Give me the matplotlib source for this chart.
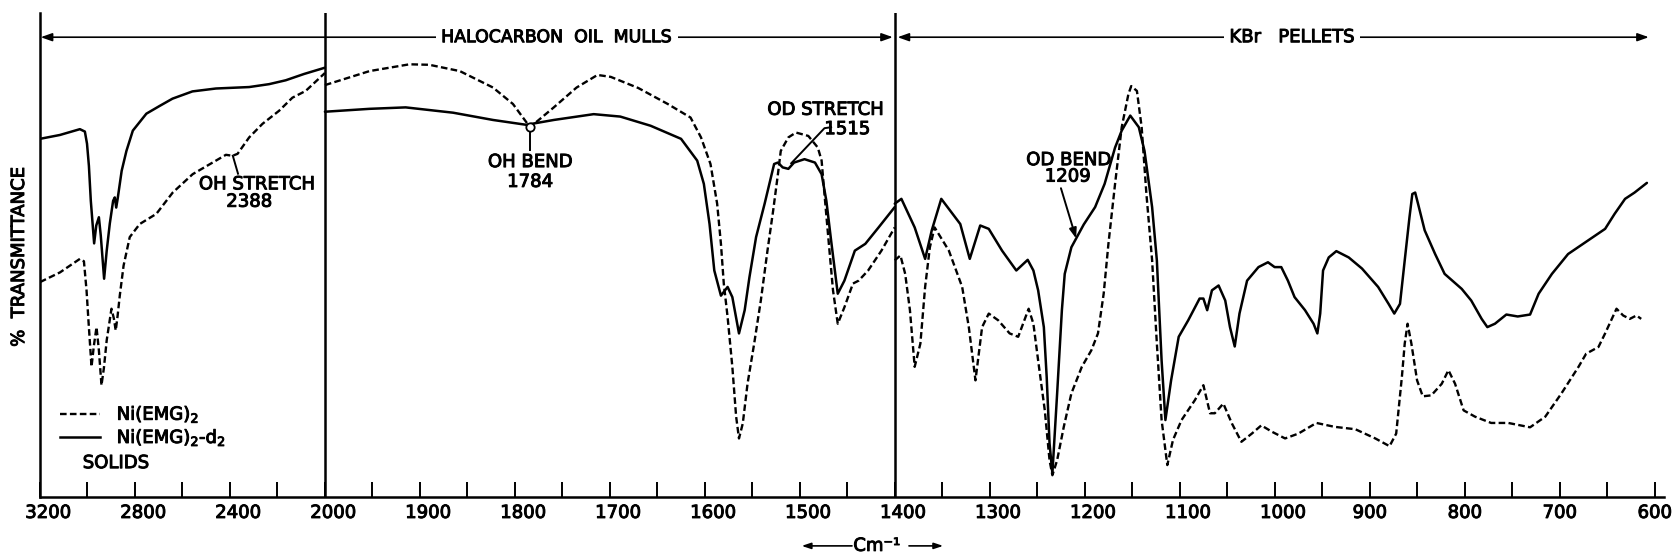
import numpy as np
import matplotlib
matplotlib.use("Agg")
import matplotlib.pyplot as plt
import matplotlib.patheffects as pe
from matplotlib.transforms import ScaledTranslation

plt.rcParams['font.family'] = ['DejaVu Sans']
plt.rcParams['mathtext.fontset'] = 'dejavusans'

# Ni(EMG)2 (dashed) and Ni(EMG)2-d2 (solid), wavenumber in cm-1 vs % transmittance
# solids, 3200-2000 cm-1
solids_wn_h = [3200, 3116, 3032, 3015, 3004, 2996, 2983, 2973, 2962, 2952, 2941, 2931,
               2919, 2899, 2889, 2881, 2873, 2864, 2848, 2822, 2780, 2710, 2641, 2557,
               2459, 2417, 2389, 2368, 2319, 2263, 2193, 2137, 2081, 2000]
solids_t_h = [44.4, 46.4, 49.2, 48.7, 42.7, 36.5, 26.9, 31.3, 35.1, 30.3, 23.1, 26.6,
              32.4, 38.9, 36.9, 34.4, 37.5, 41.6, 47.8, 53.7, 56.4, 58.5, 62.9, 66.7,
              69.5, 70.7, 70.5, 70.9, 74.3, 77.1, 79.8, 82.5, 83.9, 87.6]
solids_wn_d = [3200, 3116, 3032, 3011, 3002, 2994, 2986, 2972, 2963, 2952, 2944, 2930,
               2919, 2906, 2892, 2885, 2879, 2873, 2856, 2836, 2809, 2752, 2696, 2642,
               2558, 2459, 2319, 2235, 2165, 2088, 2000]
solids_t_d = [74.0, 74.8, 76.0, 75.5, 73.0, 68.4, 61.2, 52.4, 56.1, 57.8, 54.0, 45.1,
              50.9, 56.5, 61.2, 61.9, 59.8, 61.6, 67.4, 71.5, 75.7, 79.2, 80.8, 82.3,
              83.8, 84.4, 84.7, 85.3, 86.1, 87.4, 88.7]

# halocarbon oil mulls, 2000-1400 cm-1
mull_wn_h = [2000, 1953, 1911, 1890, 1858, 1823, 1802, 1784, 1759, 1735, 1713, 1699,
             1670, 1639, 1615, 1604, 1594, 1587, 1583, 1580, 1576, 1571, 1567, 1564,
             1560, 1555, 1548, 1541, 1534, 1528, 1523, 1520, 1512, 1504, 1491, 1481,
             1477, 1474, 1470, 1465, 1460, 1453, 1444, 1438, 1428, 1414, 1400]
mull_t_h = [85.1, 88.0, 89.4, 89.3, 88.0, 84.6, 81.2, 76.4, 80.5, 84.6, 87.2, 86.8,
            84.5, 81.2, 78.4, 74.3, 68.8, 60.6, 52.3, 44.1, 37.2, 26.9, 16.6, 12.1,
            15.2, 23.4, 31.7, 40.6, 50.9, 59.2, 66.7, 71.5, 74.3, 75.3, 74.6, 72.2,
            69.5, 62.6, 53.7, 42.7, 35.8, 39.2, 44.1, 44.7, 46.8, 50.9, 55.7]
mull_wn_d = [2000, 1953, 1915, 1865, 1823, 1788, 1759, 1717, 1689, 1657, 1625, 1608,
             1601, 1595, 1590, 1583, 1576, 1571, 1564, 1558, 1553, 1546, 1537, 1527,
             1523, 1518, 1512, 1506, 1495, 1484, 1477, 1472, 1467, 1460, 1453, 1442,
             1431, 1417, 1400]
mull_t_d = [79.6, 80.2, 80.5, 79.4, 77.9, 76.9, 77.9, 79.1, 78.6, 76.7, 74.0, 69.5,
            64.7, 56.4, 46.8, 41.6, 43.4, 41.3, 33.8, 38.6, 45.4, 53.7, 60.6, 68.8,
            69.1, 68.1, 67.8, 69.1, 69.8, 69.1, 66.7, 61.2, 53.0, 42.0, 44.7, 50.9,
            52.3, 55.7, 59.9]

# KBr pellets, 1400-600 cm-1
kbr_wn_h = [1400, 1394, 1389, 1384, 1379, 1373, 1368, 1363, 1358, 1343,
            1329, 1322, 1315, 1308, 1301, 1291, 1279, 1270, 1259, 1254,
            1249, 1242, 1237, 1234, 1229, 1222, 1214, 1203, 1193, 1186,
            1180, 1175, 1168, 1161, 1154, 1151, 1145, 1140, 1135, 1129,
            1124, 1119, 1113, 1107, 1098, 1084, 1075, 1068, 1063, 1054,
            1045, 1035, 1024, 1014, 1003, 989, 975, 956, 937, 915,
            894, 879, 872, 866, 863, 860, 856, 850, 844, 835,
            824, 817, 810, 801, 789, 772, 754, 731, 715, 698,
            680, 672, 659, 652, 640, 633, 626, 619, 614]
kbr_t_h = [48.9, 49.9, 46.1, 38.6, 26.9, 31.7, 43.4, 51.6, 55.7, 50.9,
           43.4, 35.1, 24.1, 35.1, 37.9, 36.5, 33.8, 33.1, 38.9, 35.8,
           28.2, 17.9, 7.6, 4.5, 7.6, 14.5, 21.4, 26.9, 30.3, 33.8,
           42.0, 52.3, 64.7, 76.4, 83.2, 84.9, 83.9, 76.4, 62.6, 48.9,
           31.7, 15.9, 6.6, 11.8, 15.9, 20.0, 23.1, 17.3, 17.3, 19.3,
           15.2, 11.4, 13.1, 14.8, 13.5, 12.1, 13.1, 15.3, 14.5, 14.0,
           12.1, 10.5, 13.1, 24.8, 31.7, 35.8, 31.7, 24.1, 20.8, 21.0,
           23.4, 26.2, 23.4, 17.9, 16.6, 15.3, 15.3, 14.4, 16.6, 21.4,
           26.9, 29.6, 31.0, 33.8, 38.9, 37.5, 36.8, 37.5, 36.8]
kbr_wn_d = [1400, 1393, 1379, 1368, 1361, 1351, 1331, 1321, 1310, 1301,
            1287, 1272, 1260, 1254, 1249, 1243, 1240, 1237, 1234, 1229,
            1224, 1221, 1214, 1201, 1189, 1179, 1168, 1161, 1152, 1143,
            1137, 1129, 1124, 1119, 1115, 1109, 1101, 1091, 1079, 1075,
            1071, 1066, 1059, 1052, 1047, 1042, 1037, 1029, 1017, 1007,
            1000, 993, 986, 979, 968, 959, 955, 952, 949, 943,
            935, 922, 908, 891, 880, 874, 868, 863, 858, 855,
            852, 849, 842, 831, 821, 803, 793, 782, 776, 768,
            756, 744, 731, 722, 708, 691, 670, 652, 642, 631,
            621, 608]
kbr_t_d = [60.6, 61.6, 55.7, 49.2, 55.1, 61.6, 56.4, 49.2, 56.1, 55.4,
           50.9, 46.8, 49.0, 46.8, 42.7, 35.1, 24.8, 11.1, 4.9, 21.4,
           38.6, 46.1, 51.6, 56.3, 59.9, 64.7, 72.2, 75.7, 78.8, 76.4,
           71.5, 59.9, 48.9, 28.2, 15.9, 24.1, 33.1, 36.5, 41.0, 41.0,
           38.6, 42.7, 43.7, 40.6, 35.1, 31.1, 37.9, 44.7, 47.5, 48.5,
           47.5, 47.5, 44.7, 41.3, 38.6, 35.8, 33.8, 37.9, 46.8, 49.5,
           50.8, 49.5, 47.2, 43.4, 39.9, 37.9, 39.9, 48.9, 57.8, 62.6,
           62.9, 60.6, 55.1, 50.2, 46.1, 43.0, 40.6, 36.8, 35.1, 35.8,
           37.7, 37.3, 37.7, 42.0, 46.1, 50.2, 53.0, 55.4, 58.5, 61.6,
           62.9, 64.9]

labeled_ticks = [3200, 2800, 2400, 2000, 1900, 1800, 1700, 1600, 1500, 1400,
                 1300, 1200, 1100, 1000, 900, 800, 700, 600]
plain_ticks = [3000, 2600, 2200, 1950, 1850, 1750, 1650, 1550, 1450,
               1350, 1250, 1150, 1050, 950, 850, 750, 650]

band_oh_stretch = 2388
band_oh_bend = 1784
band_od_stretch = 1515
band_od_bend = 1209


# grating change at 2000 cm-1: the region above it is drawn at quarter scale
def wn_to_pos(w):
    w = np.asarray(w, dtype=float)
    return np.where(w >= 2000, (w - 3200) / 4.0, w - 2300)


def pos_to_wn(u):
    u = np.asarray(u, dtype=float)
    return np.where(u >= -300, 3200 + 4.0 * u, u + 2300)


fig = plt.figure(figsize=(16.76, 5.59), dpi=100)
ax = fig.add_axes([40 / 1676, 62 / 559, 1624 / 1676, 484 / 559])
ax.set_xscale('function', functions=(wn_to_pos, pos_to_wn))
ax.set_xlim(3200, 590)
ax.set_ylim(0, 100)

# lettering is a bit heavier than the plain font
ink = [pe.withStroke(linewidth=0.7, foreground='k')]

dash = (0, (2.8, 1.4))
for wn, t in [(solids_wn_h, solids_t_h), (mull_wn_h, mull_t_h), (kbr_wn_h, kbr_t_h)]:
    ax.plot(wn, t, color='k', lw=1.7, ls=dash)
for wn, t in [(solids_wn_d, solids_t_d), (mull_wn_d, mull_t_d), (kbr_wn_d, kbr_t_d)]:
    ax.plot(wn, t, color='k', lw=1.8, solid_joinstyle='round', solid_capstyle='round')

# frame: left and bottom only, plus the region boundaries
for side in ['top', 'right']:
    ax.spines[side].set_visible(False)
for side in ['left', 'bottom']:
    ax.spines[side].set_linewidth(1.8)
ax.axvline(2000, color='k', lw=1.8)
ax.axvline(1400, color='k', lw=1.8)

ax.set_xticks(labeled_ticks)
ax.set_xticklabels([str(v) for v in labeled_ticks])
ax.set_xticks(plain_ticks, minor=True)
ax.tick_params(axis='x', which='both', direction='in', length=11, width=1.4,
               labelsize=13, pad=5)
ax.set_yticks([])
shift = ScaledTranslation(8 / 100, 0, fig.dpi_scale_trans)
for lbl, val in zip(ax.get_xticklabels(), labeled_ticks):
    lbl.set_path_effects(ink)
    if val >= 1000:
        lbl.set_transform(lbl.get_transform() + shift)

fig.text(19 / 1676, 1 - 257 / 559, '%  TRANSMITTANCE', rotation=90,
         ha='center', va='center', fontsize=13, path_effects=ink)

# sampling-method brackets along the top
head = '<|-|>,head_length=0.45,head_width=0.16'
ax.annotate('', xy=(3197, 95), xytext=(1402, 95),
            arrowprops=dict(arrowstyle=head, color='k', lw=1.2,
                            shrinkA=0, shrinkB=0, mutation_scale=15))
ax.annotate('', xy=(1397, 95), xytext=(606, 95),
            arrowprops=dict(arrowstyle=head, color='k', lw=1.2,
                            shrinkA=0, shrinkB=0, mutation_scale=15))
box = dict(facecolor='white', edgecolor='none', pad=4)
ax.text(1756, 95, 'HALOCARBON  OIL  MULLS', ha='center', va='center',
        fontsize=12.5, bbox=box, path_effects=ink)
ax.text(982, 95, 'KBr   PELLETS', ha='center', va='center', fontsize=13,
        bbox=box, path_effects=ink)

# band assignments
y_oh = np.interp(band_oh_stretch, solids_wn_h[::-1], solids_t_h[::-1])
ax.plot([band_oh_stretch, 2366], [y_oh, 66.8], color='k', lw=1.4)
ax.text(2287, 64.6, 'OH STRETCH', ha='center', va='center', fontsize=13, path_effects=ink)
ax.text(2319, 61.0, str(band_oh_stretch), ha='center', va='center', fontsize=13,
        path_effects=ink)

y_bend = np.interp(band_oh_bend, mull_wn_h[::-1], mull_t_h[::-1])
ax.plot([band_oh_bend, band_oh_bend], [y_bend - 0.8, 71.6], color='k', lw=1.4)
ax.plot([band_oh_bend], [y_bend], marker='o', ms=6, mfc='white', mec='k', mew=1.3)
ax.text(band_oh_bend, 69.2, 'OH BEND', ha='center', va='center', fontsize=13,
        path_effects=ink)
ax.text(band_oh_bend, 65.1, str(band_oh_bend), ha='center', va='center', fontsize=13,
        path_effects=ink)

y_ods = np.interp(band_od_stretch, mull_wn_d[::-1], mull_t_d[::-1])
ax.plot([1467, 1474, band_od_stretch - 6], [76.4, 76.2, y_ods + 1.0], color='k', lw=1.4)
ax.text(1473, 80.0, 'OD STRETCH', ha='center', va='center', fontsize=13, path_effects=ink)
ax.text(1450, 76.0, str(band_od_stretch), ha='center', va='center', fontsize=13,
        path_effects=ink)

y_odb = np.interp(band_od_bend, kbr_wn_d[::-1], kbr_t_d[::-1])
ax.annotate('', xy=(band_od_bend, y_odb), xytext=(1225, 63.8),
            arrowprops=dict(arrowstyle='-|>,head_length=0.5,head_width=0.18',
                            color='k', lw=1.4, shrinkA=0, shrinkB=0,
                            mutation_scale=12))
ax.text(1217, 69.6, 'OD BEND', ha='center', va='center', fontsize=13, path_effects=ink)
ax.text(1218, 66.2, str(band_od_bend), ha='center', va='center', fontsize=13,
        path_effects=ink)

# key
ax.plot([3116, 2948], [17.1, 17.1], color='k', lw=1.7, ls=dash)
ax.plot([3116, 2948], [12.3, 12.3], color='k', lw=1.8)
ax.text(2877, 17.1, 'Ni(EMG)$_2$', ha='left', va='center', fontsize=13, path_effects=ink)
ax.text(2877, 12.3, 'Ni(EMG)$_2$-d$_2$', ha='left', va='center', fontsize=13,
        path_effects=ink)
ax.text(3020, 7.0, 'SOLIDS', ha='left', va='center', fontsize=13, path_effects=ink)

# wavenumber unit with direction arrows below the axis
small = '-|>,head_length=0.45,head_width=0.15'
ax.text(1419, -10.1, 'Cm\u207b\u00b9', ha='center', va='center', fontsize=13,
        clip_on=False, path_effects=ink)
ax.annotate('', xy=(1498, -10.1), xytext=(1445, -10.1), annotation_clip=False,
            arrowprops=dict(arrowstyle=small, color='k', lw=1.2,
                            shrinkA=0, shrinkB=0, mutation_scale=12))
ax.annotate('', xy=(1349, -10.1), xytext=(1385, -10.1), annotation_clip=False,
            arrowprops=dict(arrowstyle=small, color='k', lw=1.2,
                            shrinkA=0, shrinkB=0, mutation_scale=12))

fig.savefig('out.png', dpi=100, facecolor='white')
